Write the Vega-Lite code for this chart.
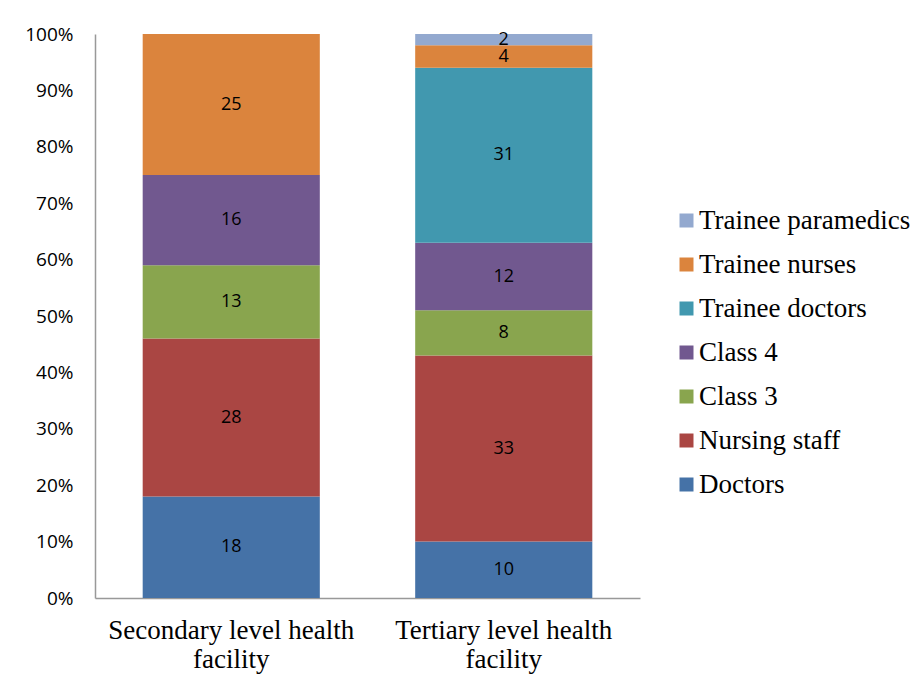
{
  "$schema": "https://vega.github.io/schema/vega-lite/v6.json",
  "autosize": {"type": "none"},
  "width": 545,
  "height": 564,
  "padding": {"left": 95, "top": 34, "right": 280, "bottom": 88},
  "background": "white",
  "config": {"view": {"stroke": null}},
  "data": {"values": [
    {"facility": "Secondary level health facility", "category": "Doctors", "ord": 1, "value": 18},
    {"facility": "Secondary level health facility", "category": "Nursing staff", "ord": 2, "value": 28},
    {"facility": "Secondary level health facility", "category": "Class 3", "ord": 3, "value": 13},
    {"facility": "Secondary level health facility", "category": "Class 4", "ord": 4, "value": 16},
    {"facility": "Secondary level health facility", "category": "Trainee nurses", "ord": 6, "value": 25},
    {"facility": "Tertiary level health facility", "category": "Doctors", "ord": 1, "value": 10},
    {"facility": "Tertiary level health facility", "category": "Nursing staff", "ord": 2, "value": 33},
    {"facility": "Tertiary level health facility", "category": "Class 3", "ord": 3, "value": 8},
    {"facility": "Tertiary level health facility", "category": "Class 4", "ord": 4, "value": 12},
    {"facility": "Tertiary level health facility", "category": "Trainee doctors", "ord": 5, "value": 31},
    {"facility": "Tertiary level health facility", "category": "Trainee nurses", "ord": 6, "value": 4},
    {"facility": "Tertiary level health facility", "category": "Trainee paramedics", "ord": 7, "value": 2}
  ]},
  "transform": [
    {"stack": "value", "groupby": ["facility"], "sort": [{"field": "ord", "order": "ascending"}], "as": ["y0", "y1"], "offset": "normalize"},
    {"calculate": "(datum.y0 + datum.y1) / 2", "as": "ymid"}
  ],
  "encoding": {
    "x": {
      "field": "facility", "type": "nominal", "title": null,
      "sort": ["Secondary level health facility", "Tertiary level health facility"],
      "scale": {"paddingInner": 0.35, "paddingOuter": 0.175},
      "axis": {
        "labelAngle": 0, "ticks": false, "domainColor": "#999999", "domainWidth": 1.5,
        "labelFont": "Liberation Serif", "labelFontSize": 27, "labelColor": "#000000",
        "labelPadding": 19, "labelLineHeight": 29, "labelLimit": 500, "labelOverlap": false,
        "labelExpr": "datum.value == 'Secondary level health facility' ? ['Secondary level health', 'facility'] : ['Tertiary level health', 'facility']"
      }
    }
  },
  "layer": [
    {
      "mark": {"type": "bar"},
      "encoding": {
        "y": {
          "field": "y0", "type": "quantitative", "title": null,
          "scale": {"domain": [0, 1], "nice": false},
          "axis": {
            "format": ".0%", "values": [0, 0.1, 0.2, 0.3, 0.4, 0.5, 0.6, 0.7, 0.8, 0.9, 1],
            "grid": false, "ticks": false, "domainColor": "#999999", "domainWidth": 1.5,
            "labelFont": "Open Sans", "labelFontSize": 19, "labelColor": "#000000", "labelPadding": 22,
            "labelOverlap": false
          }
        },
        "y2": {"field": "y1"},
        "color": {
          "field": "category", "type": "nominal",
          "scale": {
            "domain": ["Trainee paramedics", "Trainee nurses", "Trainee doctors", "Class 4", "Class 3", "Nursing staff", "Doctors"],
            "range": ["#93A9CF", "#DB843D", "#4198AF", "#71588F", "#89A54E", "#AA4643", "#4572A7"]
          },
          "legend": {
            "title": null, "orient": "none", "legendX": 578, "legendY": 173,
            "symbolType": "square", "symbolSize": 196, "symbolStrokeWidth": 0,
            "labelFont": "Liberation Serif", "labelFontSize": 27, "labelColor": "#000000",
            "labelOffset": -1, "rowPadding": 16, "labelLimit": 400
          }
        }
      }
    },
    {
      "mark": {"type": "text", "font": "Open Sans", "fontSize": 18, "color": "#000000"},
      "encoding": {
        "y": {"field": "ymid", "type": "quantitative", "scale": {"domain": [0, 1], "nice": false}},
        "text": {"field": "value", "type": "quantitative"}
      }
    }
  ]
}
